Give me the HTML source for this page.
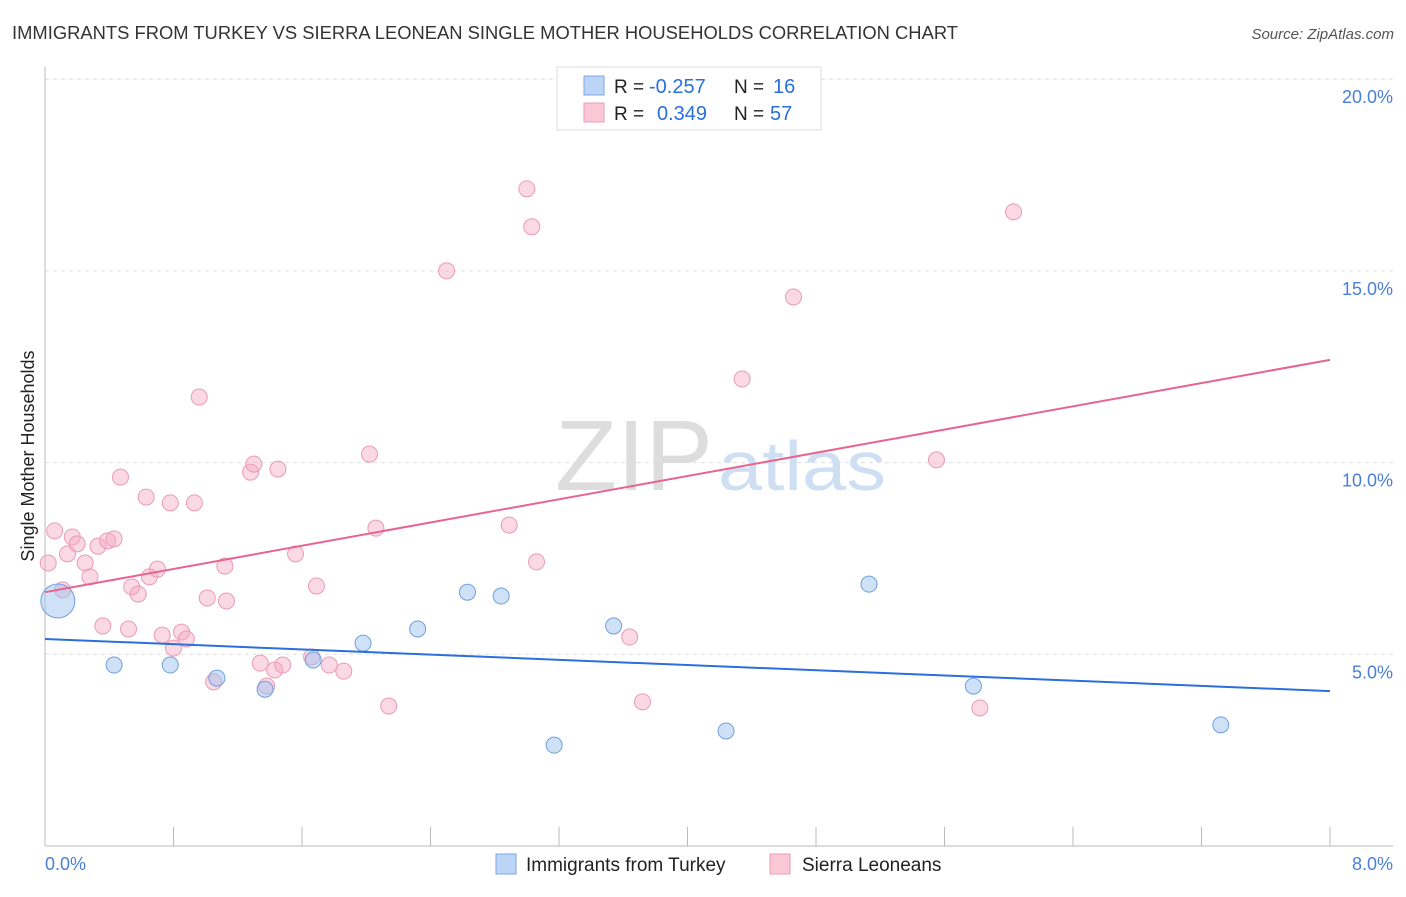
<!DOCTYPE html>
<html><head><meta charset="utf-8"><style>
body{margin:0;background:#fff;font-family:"Liberation Sans",sans-serif;}
svg text{font-family:"Liberation Sans",sans-serif;}
</style></head><body>
<svg id="chart" width="1406" height="892">
<text x="12" y="39" font-size="18" fill="#333" textLength="946" lengthAdjust="spacingAndGlyphs">IMMIGRANTS FROM TURKEY VS SIERRA LEONEAN SINGLE MOTHER HOUSEHOLDS CORRELATION CHART</text>
<text x="1394" y="39" font-size="15" fill="#555" font-style="italic" text-anchor="end">Source: ZipAtlas.com</text>
<g id="grid"></g>
<text x="555" y="490" font-size="100" fill="#ddd" textLength="158" lengthAdjust="spacingAndGlyphs" font-family="Liberation Serif">ZIP</text>
<text x="718" y="490" font-size="70" fill="#cfdff3" textLength="168" lengthAdjust="spacingAndGlyphs">atlas</text>
<g id="marks"></g>
<text transform="translate(34,456) rotate(-90)" font-size="18" fill="#222" text-anchor="middle">Single Mother Households</text>
<text x="45" y="870" font-size="18" fill="#4a7fd4">0.0%</text>
<text x="1393" y="870" font-size="18" fill="#4a7fd4" text-anchor="end">8.0%</text>
<g>
<rect x="557" y="67" width="264" height="63" fill="#fff" stroke="#ddd"/>
<rect x="584" y="76" width="20" height="19" fill="#bcd4f5" stroke="#7aa8e6"/>
<rect x="584" y="103" width="20" height="19" fill="#f9c7d6" stroke="#ee9bb6"/>
<text x="614" y="93" font-size="19" fill="#222">R =</text>
<text x="649" y="93" font-size="20" fill="#2a6fdb">-0.257</text>
<text x="734" y="93" font-size="19" fill="#222">N =</text>
<text x="773" y="93" font-size="20" fill="#2a6fdb">16</text>
<text x="614" y="120" font-size="19" fill="#222">R =</text>
<text x="657" y="120" font-size="20" fill="#2a6fdb">0.349</text>
<text x="734" y="120" font-size="19" fill="#222">N =</text>
<text x="770" y="120" font-size="20" fill="#2a6fdb">57</text>
</g>
<g>
<rect x="496" y="854" width="20" height="20" fill="#bcd4f5" stroke="#7aa8e6"/>
<text x="526" y="871" font-size="19" fill="#222">Immigrants from Turkey</text>
<rect x="770" y="854" width="20" height="20" fill="#f9c7d6" stroke="#ee9bb6"/>
<text x="802" y="871" font-size="19" fill="#222">Sierra Leoneans</text>
</g>
</svg>
<script>
const yTicks=[5,10,15,20];
const xTicks=[0,0.8,1.6,2.4,3.2,4,4.8,5.6,6.4,7.2,8];
const blueX=[0.08,0.43,0.78,1.07,1.37,1.67,1.98,2.32,2.63,2.84,3.17,3.54,4.24,5.13,5.78,7.32];
const blueY=[6.39,4.72,4.72,4.38,4.09,4.85,5.29,5.66,6.62,6.52,2.63,5.74,3.00,6.83,4.17,3.16];
const pinkX=[0.02,0.06,0.11,0.14,0.17,0.20,0.25,0.28,0.33,0.36,0.39,0.43,0.47,0.52,0.54,0.58,0.63,0.65,0.70,0.73,0.78,0.80,0.85,0.88,0.93,0.96,1.01,1.05,1.12,1.13,1.28,1.30,1.34,1.38,1.43,1.45,1.48,1.56,1.66,1.69,1.77,1.86,2.02,2.06,2.14,2.50,2.89,3.00,3.03,3.06,3.64,3.72,4.34,4.66,5.55,5.82,6.03];
const pinkY=[7.38,8.22,6.68,7.62,8.06,7.88,7.38,7.02,7.82,5.74,7.96,8.01,9.62,5.66,6.76,6.57,9.10,7.02,7.22,5.50,8.95,5.16,5.58,5.40,8.95,11.71,6.47,4.28,7.30,6.39,9.75,9.96,4.77,4.17,4.59,9.83,4.72,7.62,4.93,6.78,4.72,4.56,10.22,8.29,3.65,15.00,8.37,17.14,16.15,7.41,5.45,3.76,12.18,14.32,10.07,3.60,16.54];
const blueTrend=[5.40,4.04];
const pinkTrend=[6.62,12.68];
const NS='http://www.w3.org/2000/svg';
const X=v=>45+v/8*1285;
const Y=v=>846-v/5*191.7;
function mk(t,a,p){const e=document.createElementNS(NS,t);for(const k in a)e.setAttribute(k,a[k]);(p||document.getElementById('marks')).appendChild(e);return e;}
const grid=document.getElementById('grid');
yTicks.forEach((t,i)=>{
 const l=mk('line',{x1:45,x2:1393,y1:Y(t),y2:Y(t),stroke:'#ddd','stroke-dasharray':'4,4'},grid);
 
 
 const tx=mk('text',{x:1393,y:Y(t)+24,'font-size':18,fill:'#4a7fd4','text-anchor':'end'},grid);
 tx.textContent=t.toFixed(1)+'%';
 
 
});
mk('line',{x1:45,x2:45,y1:67,y2:846,stroke:'#bbb'},grid);
mk('line',{x1:45,x2:1393,y1:846,y2:846,stroke:'#bbb'},grid);
xTicks.forEach(t=>{
 const l=mk('line',{x1:X(t),x2:X(t),y1:827,y2:846,stroke:'#bbb'},grid);
 
 
});
pinkX.forEach((x,i)=>{
 const c=mk('circle',{cx:X(x),cy:Y(pinkY[i]),r:8,fill:'rgba(245,170,195,0.45)',stroke:'#eb9ab5','stroke-width':1});
 
 
});
blueX.forEach((x,i)=>{
 const c=mk('circle',{cx:X(x),cy:Y(blueY[i]),r:i===0?17:8,fill:'rgba(160,195,240,0.5)',stroke:'#6f9fe0','stroke-width':1});
 
 
});
const bl=mk('line',{x1:X(0),y1:Y(blueTrend[0]),x2:X(8),y2:Y(blueTrend[1]),stroke:'#2a6fdb','stroke-width':2});


const pl=mk('line',{x1:X(0),y1:Y(pinkTrend[0]),x2:X(8),y2:Y(pinkTrend[1]),stroke:'#e8648f','stroke-width':2});


</script>
</body></html>
